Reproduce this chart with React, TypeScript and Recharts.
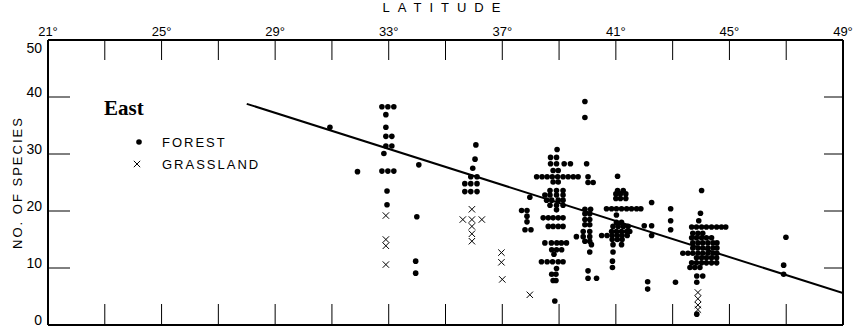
import React from 'react';
import { ScatterChart, Scatter, XAxis, YAxis, Legend, Label } from 'recharts';

type Pt = [number, number];

// axis ticks
const LAT_TICKS = [21, 23, 25, 27, 29, 31, 33, 35, 37, 39, 41, 43, 45, 47, 49];
const LAT_LABELS = [21, 25, 29, 33, 37, 41, 45, 49];
const SPECIES_TICKS = [0, 10, 20, 30, 40, 50];

// forest samples, [latitude, no. of species]
const forest31to34: Pt[] = [
  [30.93, 34.7], [31.9, 26.9],
  [32.76, 38.3], [32.97, 38.3], [33.18, 38.3],
  [32.9, 36.9], [32.9, 34.7],
  [32.9, 33.1], [33.11, 33.1],
  [32.9, 31.4], [33.11, 31.4],
  [32.83, 30.1],
  [32.76, 27.0], [32.97, 27.0], [33.18, 27.0],
  [32.94, 23.5], [32.94, 21.1],
  [34.06, 28.1], [33.99, 19.0], [33.95, 11.2], [33.95, 9.1],
];

const forest36to38: Pt[] = [
  [36.07, 31.6], [36.04, 29.1], [35.96, 27.5],
  [35.89, 26.0], [36.11, 26.0],
  [35.68, 24.8], [35.89, 24.8], [36.11, 24.8],
  [35.68, 23.4], [35.89, 23.4], [36.11, 23.4],
  [37.97, 22.4], [37.68, 20.1], [37.87, 20.1], [37.87, 19.1], [37.87, 18.1],
  [37.8, 16.7], [38.01, 16.7],
];

const forest39: Pt[] = [
  [38.93, 30.8],
  [38.7, 29.4], [38.91, 29.4],
  [38.7, 28.3], [38.91, 28.3], [39.18, 28.3], [39.4, 28.3],
  [38.79, 27.1], [38.97, 27.1],
  [38.21, 26.0], [38.4, 26.0], [38.58, 26.0], [38.76, 26.0], [38.95, 26.0],
  [39.14, 26.0], [39.32, 26.0], [39.5, 26.0], [39.67, 26.0],
  [38.79, 25.1], [38.97, 25.1],
  [38.68, 23.6], [38.91, 23.6], [39.14, 23.6],
  [38.5, 22.8], [38.68, 22.8], [38.91, 22.8], [39.14, 22.8],
  [38.56, 21.9], [38.74, 21.9], [38.97, 21.9], [39.14, 21.9],
  [38.68, 21.0], [38.91, 21.0], [39.14, 21.0],
  [38.91, 20.2],
  [38.44, 18.8], [38.62, 18.8], [38.79, 18.8], [38.97, 18.8], [39.14, 18.8],
  [38.62, 17.3], [38.79, 17.3], [38.97, 17.3], [39.14, 17.3],
  [38.5, 14.4], [38.73, 14.4], [38.92, 14.4], [39.08, 14.4], [39.26, 14.4],
  [38.74, 13.2], [38.91, 13.2], [39.09, 13.2],
  [38.82, 12.4],
  [38.38, 11.1], [38.58, 11.1], [38.77, 11.1], [38.97, 11.1], [39.14, 11.1],
  [38.91, 9.9],
  [38.74, 8.9], [38.89, 8.9],
  [38.79, 7.8], [38.89, 7.8],
  [38.85, 4.2],
];

const forest40: Pt[] = [
  [39.91, 39.2], [39.91, 36.4], [39.97, 28.3], [40.02, 26.0],
  [40.02, 25.0], [40.2, 25.0],
  [39.91, 20.3], [40.11, 20.3],
  [39.91, 19.5], [40.08, 19.5],
  [39.91, 18.5], [40.08, 18.5],
  [39.91, 17.6], [40.08, 17.6],
  [39.85, 16.4], [40.08, 16.4],
  [39.61, 15.5], [39.85, 15.5], [40.08, 15.5],
  [39.91, 14.7], [40.08, 14.7],
  [40.14, 14.1], [40.08, 12.8], [40.02, 9.5],
  [40.02, 8.2], [40.32, 8.2],
];

const forest41: Pt[] = [
  [41.06, 26.1],
  [41.06, 23.6], [41.26, 23.6],
  [41.0, 23.0], [41.16, 23.0], [41.35, 23.0],
  [41.0, 22.2], [41.16, 22.2], [41.35, 22.2],
  [40.67, 20.4], [40.85, 20.4], [41.02, 20.4], [41.2, 20.4],
  [41.38, 20.4], [41.55, 20.4], [41.73, 20.4], [41.88, 20.4],
  [41.02, 19.3],
  [41.02, 18.0], [41.2, 18.0],
  [40.9, 17.3], [41.08, 17.3], [41.26, 17.3], [41.43, 17.3],
  [40.85, 16.4], [41.02, 16.4], [41.2, 16.4], [41.38, 16.4], [41.49, 16.4],
  [40.5, 15.7], [40.69, 15.7], [40.87, 15.7], [41.05, 15.7], [41.22, 15.7], [41.4, 15.7],
  [40.87, 15.0], [41.05, 15.0], [41.22, 15.0],
  [40.9, 14.1], [41.2, 14.1],
  [40.9, 12.8], [40.88, 11.2], [40.88, 10.1],
];

const forest42to47: Pt[] = [
  [42.26, 21.5], [42.0, 17.4], [42.26, 17.4], [42.26, 15.7], [42.12, 7.6], [42.12, 6.3],
  [42.93, 20.4], [42.93, 18.3], [42.93, 16.7], [43.1, 7.5],
  [46.99, 15.4], [46.91, 10.5], [46.91, 8.9],
];

const forest44: Pt[] = [
  [44.02, 23.6], [43.98, 19.6], [43.92, 18.3],
  [43.67, 17.2], [43.84, 17.2], [44.02, 17.2], [44.19, 17.2],
  [44.37, 17.2], [44.55, 17.2], [44.72, 17.2], [44.87, 17.2],
  [43.71, 16.1], [43.89, 16.1], [44.06, 16.1],
  [43.67, 15.3], [43.84, 15.3], [44.02, 15.3], [44.19, 15.3], [44.37, 15.3],
  [43.71, 14.4], [43.89, 14.4], [44.06, 14.4], [44.24, 14.4], [44.42, 14.4], [44.56, 14.4],
  [43.71, 13.5], [43.89, 13.5], [44.06, 13.5], [44.24, 13.5], [44.42, 13.5], [44.56, 13.5],
  [43.36, 12.6], [43.54, 12.6], [43.71, 12.6], [43.89, 12.6],
  [44.06, 12.6], [44.24, 12.6], [44.42, 12.6], [44.56, 12.6],
  [43.84, 11.8], [44.02, 11.8], [44.19, 11.8], [44.37, 11.8], [44.55, 11.8],
  [43.67, 10.9], [43.84, 10.9], [44.02, 10.9], [44.19, 10.9], [44.37, 10.9], [44.55, 10.9],
  [43.61, 10.1], [43.78, 10.1], [43.96, 10.1],
  [43.85, 8.6], [44.06, 8.6],
  [43.85, 7.5], [43.85, 1.9],
];

// grassland samples
const grassland: Pt[] = [
  [32.9, 19.2], [32.9, 15.0], [32.9, 13.9], [32.9, 10.6],
  [35.93, 20.3], [35.61, 18.5], [35.93, 18.5], [36.28, 18.5],
  [35.93, 17.3], [35.93, 16.0], [35.93, 14.7],
  [36.97, 12.7], [36.97, 11.0], [37.0, 8.0],
  [37.97, 5.3],
  [43.89, 5.7], [43.89, 4.6], [43.89, 3.5], [43.89, 2.7],
];

// fitted regression line end points
const trendLine: Pt[] = [[28.0, 38.8], [49, 5.6]];

const toRows = (pts: Pt[]) => pts.map(([lat, species]) => ({ lat, species }));

const forestData = toRows([
  ...forest31to34, ...forest36to38, ...forest39, ...forest40,
  ...forest41, ...forest42to47, ...forest44,
]);
const grassData = toRows(grassland);
const trendData = toRows(trendLine);

const FONT = '"Liberation Sans", Arial, sans-serif';
const AXIS = { stroke: '#000', strokeWidth: 2 };
const TOP_GAP = 4;
const LEFT_GAP = 6;

const ForestDot = (props: any) => <circle cx={props.cx} cy={props.cy} r={2.8} fill="#000" />;

const GrassCross = (props: any) => {
  const { cx, cy } = props;
  const s = 3.2;
  return (
    <g stroke="#000" strokeWidth={1}>
      <line x1={cx - s} y1={cy - s} x2={cx + s} y2={cy + s} />
      <line x1={cx - s} y1={cy + s} x2={cx + s} y2={cy - s} />
    </g>
  );
};

const NoShape = () => <g />;

// inward tick marks drawn with the tick labels
const TopTick = ({ x, y, payload }: any) => (
  <g>
    <line x1={x} x2={x} y1={y + TOP_GAP} y2={y + TOP_GAP + 20} stroke="#000" strokeWidth={1} />
    {LAT_LABELS.includes(payload.value) && (
      <text x={x} y={y} textAnchor="middle" fill="#000" fontSize={13} fontFamily={FONT}>
        {`${payload.value}°`}
      </text>
    )}
  </g>
);

const BottomTick = ({ x, y }: any) => (
  <line x1={x} x2={x} y1={y} y2={y - 21} stroke="#000" strokeWidth={1} />
);

const LeftTick = ({ x, y, payload }: any) => (
  <g>
    <line x1={x + LEFT_GAP} x2={x + LEFT_GAP + 22} y1={y} y2={y} stroke="#000" strokeWidth={1} />
    <text x={x} y={payload.value === 50 ? y + 13 : y} textAnchor="end" fill="#000" fontSize={14} fontFamily={FONT}>
      {payload.value}
    </text>
  </g>
);

const RightTick = ({ x, y }: any) => (
  <line x1={x} x2={x - 19} y1={y} y2={y} stroke="#000" strokeWidth={1} />
);

const LegendBox = () => (
  <div style={{ fontFamily: FONT, fontSize: 13, color: '#000' }}>
    <div style={{ fontFamily: '"Liberation Serif", serif', fontWeight: 'bold', fontSize: 21, lineHeight: '24px', marginBottom: 11 }}>
      East
    </div>
    <div style={{ display: 'flex', alignItems: 'center', height: 22 }}>
      <svg width={58} height={22}><circle cx={35} cy={11} r={2.8} fill="#000" /></svg>
      <span style={{ letterSpacing: 2 }}>FOREST</span>
    </div>
    <div style={{ display: 'flex', alignItems: 'center', height: 22 }}>
      <svg width={58} height={22}><GrassCross cx={33} cy={11} /></svg>
      <span style={{ letterSpacing: 2 }}>GRASSLAND</span>
    </div>
  </div>
);

export default function App() {
  return (
    <div style={{ position: 'absolute', left: 0, top: 0, background: '#fff' }}>
      <ScatterChart width={864} height={327} margin={{ top: 0, right: 0, bottom: 0, left: 0 }}>
        <XAxis
          xAxisId="top"
          orientation="top"
          type="number"
          dataKey="lat"
          domain={[21, 49]}
          ticks={LAT_TICKS}
          interval={0}
          height={40}
          tickSize={0}
          tickMargin={TOP_GAP}
          axisLine={AXIS}
          tickLine={false}
          tick={<TopTick />}
          allowDataOverflow
        >
          <Label value="LATITUDE" position="insideTop" offset={3} style={{ fontFamily: FONT, fontSize: 13, letterSpacing: 8, fill: '#000' }} />
        </XAxis>
        <XAxis
          xAxisId="bottom"
          orientation="bottom"
          type="number"
          dataKey="lat"
          domain={[21, 49]}
          ticks={LAT_TICKS}
          interval={0}
          height={2}
          tickSize={0}
          tickMargin={0}
          axisLine={AXIS}
          tickLine={false}
          tick={<BottomTick />}
          allowDataOverflow
        />
        <YAxis
          yAxisId="left"
          orientation="left"
          type="number"
          dataKey="species"
          domain={[0, 50]}
          ticks={SPECIES_TICKS}
          interval={0}
          width={48}
          tickSize={0}
          tickMargin={LEFT_GAP}
          axisLine={AXIS}
          tickLine={false}
          tick={<LeftTick />}
          allowDataOverflow
        >
          <Label value="NO. OF SPECIES" angle={-90} position="insideLeft" offset={11} dx={6} style={{ fontFamily: FONT, fontSize: 13, letterSpacing: 2, fill: '#000', textAnchor: 'middle' }} />
        </YAxis>
        <YAxis
          yAxisId="right"
          orientation="right"
          type="number"
          dataKey="species"
          domain={[0, 50]}
          ticks={SPECIES_TICKS}
          interval={0}
          width={21}
          tickSize={0}
          tickMargin={0}
          axisLine={AXIS}
          tickLine={false}
          tick={<RightTick />}
          allowDataOverflow
        />
        <Legend
          layout="vertical"
          align="center"
          verticalAlign="middle"
          content={<LegendBox />}
          wrapperStyle={{ left: 104, top: 96, width: 200, height: 90 }}
        />
        <Scatter
          name="trend"
          data={trendData}
          xAxisId="bottom"
          yAxisId="right"
          line={{ stroke: '#000', strokeWidth: 2 }}
          shape={NoShape}
          legendType="none"
          isAnimationActive={false}
        />
        <Scatter
          name="FOREST"
          data={forestData}
          xAxisId="top"
          yAxisId="left"
          shape={ForestDot}
          isAnimationActive={false}
        />
        <Scatter
          name="GRASSLAND"
          data={grassData}
          xAxisId="top"
          yAxisId="left"
          shape={GrassCross}
          isAnimationActive={false}
        />
      </ScatterChart>
    </div>
  );
}
